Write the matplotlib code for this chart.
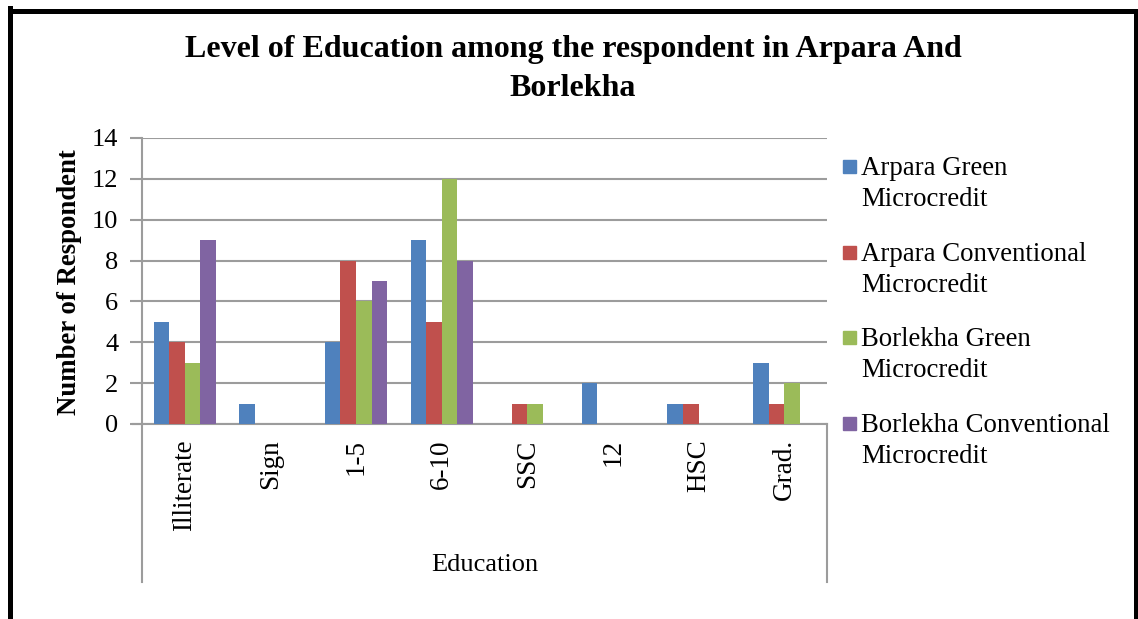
import numpy as np
import matplotlib.pyplot as plt
from matplotlib.lines import Line2D
from matplotlib.patches import Rectangle

# Respondents by education level, per area and microcredit type
categories = ["Illiterate", "Sign", "1-5", "6-10", "SSC", "12", "HSC", "Grad."]
arpara_green = [5, 1, 4, 9, 0, 2, 1, 3]
arpara_conv = [4, 0, 8, 5, 1, 0, 1, 1]
borlekha_green = [3, 0, 6, 12, 1, 0, 0, 2]
borlekha_conv = [9, 0, 7, 8, 0, 0, 0, 0]

series_names = [
    ("Arpara Green", "Microcredit"),
    ("Arpara Conventional", "Microcredit"),
    ("Borlekha Green", "Microcredit"),
    ("Borlekha Conventional", "Microcredit"),
]
series_values = [arpara_green, arpara_conv, borlekha_green, borlekha_conv]
colors = ["#4F81BD", "#C0504D", "#9BBB59", "#8064A2"]

W, H = 1138, 619
plt.rcParams["font.family"] = ["Liberation Serif", "DejaVu Serif"]

fig = plt.figure(figsize=(W / 100, H / 100), dpi=100)


def fx(px):
    return px / W


def fy(py):
    return 1 - py / H


# plot area in pixel coordinates
left, right, top, bottom = 142, 827, 138, 424
ax = fig.add_axes([fx(left), fy(bottom), fx(right - left), (bottom - top) / H])

n = len(series_values)
x = np.arange(len(categories)) + 0.5
bar_w = 1.0 / (n + 1.5)
for i, (vals, c) in enumerate(zip(series_values, colors)):
    offs = (i - (n - 1) / 2) * bar_w
    ax.bar(x + offs, vals, width=bar_w, color=c, linewidth=0, zorder=3)

ax.set_xlim(0, len(categories))
ax.set_ylim(0, 14)
ax.set_yticks(np.arange(0, 15, 2))
ax.yaxis.grid(True, color="#9c9c9c", linewidth=1.5, zorder=0)
ax.set_axisbelow(True)

for s in ["top", "right", "bottom"]:
    ax.spines[s].set_visible(False)
ax.spines["left"].set_color("#9c9c9c")
ax.spines["left"].set_linewidth(1.5)

ax.tick_params(axis="y", length=9, width=1.5, color="#9c9c9c",
               labelsize=19, pad=8)
ax.set_xticks([])

# category labels, rotated, hanging below the axis
for xi, lab in zip(x, categories):
    ax.text(xi, -0.75, lab, rotation=90, ha="center", va="top", fontsize=19.5)

# axis box under the categories
depth = (582 - bottom) / (bottom - top)
ax.plot([0, 0], [0, -depth], transform=ax.transAxes, color="#9c9c9c",
        lw=1.5, clip_on=False)
ax.plot([1, 1], [0, -depth], transform=ax.transAxes, color="#9c9c9c",
        lw=1.5, clip_on=False)
ax.plot([-9 / (right - left), 1], [0, 0], transform=ax.transAxes,
        color="#9c9c9c", lw=1.5, clip_on=False)

fig.text(fx((left + right) / 2), fy(565), "Education", ha="center",
         va="center", fontsize=19)
fig.text(fx(70), fy(282), "Number of Respondent", rotation=90, ha="center",
         va="center", fontsize=19.3, fontweight="bold")

fig.text(fx(573), fy(50), "Level of Education among the respondent in Arpara And",
         ha="center", va="center", fontsize=23, fontweight="bold")
fig.text(fx(573), fy(88), "Borlekha", ha="center", va="center",
         fontsize=23, fontweight="bold")

# legend
for i, ((l1, l2), c) in enumerate(zip(series_names, colors)):
    base = 175 + i * 85.7
    fig.patches.append(Rectangle((fx(843), fy(base - 2)), fx(13), 13 / H,
                                 transform=fig.transFigure, color=c))
    fig.text(fx(861), fy(base), l1, ha="left", va="baseline", fontsize=19.3)
    fig.text(fx(861), fy(base + 31), l2, ha="left", va="baseline", fontsize=19.3)

# outer frame
fig.lines.append(Line2D([fx(9.5), fx(9.5)], [0, fy(8)], transform=fig.transFigure,
                        color="black", lw=3.6, solid_capstyle="projecting"))
fig.lines.append(Line2D([fx(9.5), fx(1136)], [fy(10.5), fy(10.5)],
                        transform=fig.transFigure, color="black", lw=3.6,
                        solid_capstyle="projecting"))
fig.lines.append(Line2D([fx(1136), fx(1136)], [0, fy(10.5)],
                        transform=fig.transFigure, color="black", lw=3.6,
                        solid_capstyle="projecting"))

fig.savefig("out.png", dpi=100)
